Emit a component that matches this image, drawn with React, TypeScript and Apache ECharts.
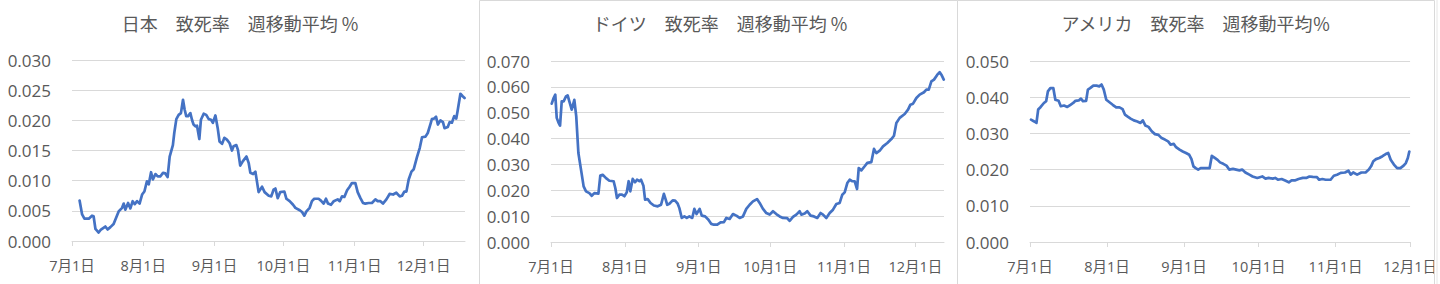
import React, { useEffect, useRef } from "react";
import * as echarts from "echarts";

// x positions are days since 7月1日
const tickDays = [0, 31, 62, 92, 123, 153];
const tickLabels = ["7月1日", "8月1日", "9月1日", "10月1日", "11月1日", "12月1日"];

const titles = [
  "日本　致死率　週移動平均 %",
  "ドイツ　致死率　週移動平均 %",
  "アメリカ　致死率　週移動平均％",
];

// Japan
const jpDays = [3.3, 4.4, 5.4, 7.3, 8.7, 9.4, 10.2, 11.6, 12.6, 14.5, 15.5, 16.7, 18.1, 20.3, 21.8, 22.5, 23.2, 24.4, 25.4, 26.4, 27.3, 28.3, 29.4, 30.5, 31.5, 32.6, 33.4, 34.4, 35.2, 36.3, 37.3, 38.4, 39.6, 40.6, 41.6, 42.5, 43.9, 44.5, 45.4, 46.4, 47.4, 48.3, 49.0, 49.7, 50.5, 51.5, 52.2, 52.9, 53.7, 54.4, 55.4, 56.1, 57.3, 58.4, 59.5, 60.5, 61.3, 62.4, 63.4, 64.2, 65.3, 66.3, 67.4, 68.6, 69.6, 70.3, 71.5, 72.2, 73.2, 74.3, 75.9, 76.9, 77.6, 78.8, 79.8, 81.2, 82.7, 83.8, 85.6, 86.7, 87.7, 88.5, 89.5, 90.6, 92.4, 93.3, 94.7, 96.2, 97.2, 99.1, 100.1, 101.1, 102.0, 103.4, 104.4, 105.4, 107.3, 108.3, 109.5, 110.5, 111.4, 112.7, 113.9, 115.6, 116.5, 117.5, 118.5, 119.7, 120.8, 121.8, 123.3, 124.3, 125.5, 126.6, 127.6, 129.1, 130.5, 132.0, 133.0, 134.2, 135.3, 136.8, 138.2, 139.7, 141.1, 142.6, 143.6, 144.6, 145.5, 146.5, 147.7, 148.7, 150.1, 151.3, 152.3, 153.8, 154.8, 155.9, 156.6, 157.6, 158.4, 159.2, 160.3, 161.4, 162.1, 163.5, 164.3, 165.3, 166.3, 167.2, 167.8, 169.0, 170.0, 170.8];
const jpRate = [0.0067, 0.0044, 0.0037, 0.0037, 0.0042, 0.0041, 0.0020, 0.0014, 0.0019, 0.0024, 0.0019, 0.0023, 0.0028, 0.0049, 0.0055, 0.0062, 0.0052, 0.0063, 0.0054, 0.0066, 0.0061, 0.0066, 0.0062, 0.0077, 0.0082, 0.0099, 0.0094, 0.0114, 0.0102, 0.0111, 0.0107, 0.0107, 0.0113, 0.0112, 0.0106, 0.0140, 0.0159, 0.0179, 0.0202, 0.0209, 0.0212, 0.0234, 0.0218, 0.0207, 0.0207, 0.0212, 0.0201, 0.0193, 0.0190, 0.0191, 0.0169, 0.0201, 0.0211, 0.0209, 0.0202, 0.0201, 0.0196, 0.0208, 0.0187, 0.0165, 0.0161, 0.0171, 0.0168, 0.0162, 0.0150, 0.0157, 0.0159, 0.0151, 0.0125, 0.0132, 0.0140, 0.0129, 0.0113, 0.0111, 0.0115, 0.0081, 0.0090, 0.0081, 0.0075, 0.0074, 0.0085, 0.0087, 0.0071, 0.0081, 0.0082, 0.0070, 0.0066, 0.0060, 0.0055, 0.0051, 0.0048, 0.0042, 0.0049, 0.0055, 0.0066, 0.0070, 0.0070, 0.0067, 0.0062, 0.0070, 0.0062, 0.0060, 0.0066, 0.0069, 0.0066, 0.0074, 0.0073, 0.0084, 0.0090, 0.0096, 0.0096, 0.0081, 0.0071, 0.0063, 0.0062, 0.0063, 0.0063, 0.0069, 0.0066, 0.0066, 0.0062, 0.0069, 0.0078, 0.0077, 0.0080, 0.0074, 0.0075, 0.0082, 0.0082, 0.0102, 0.0115, 0.0119, 0.0139, 0.0154, 0.0172, 0.0173, 0.0179, 0.0193, 0.0202, 0.0203, 0.0206, 0.0193, 0.0200, 0.0197, 0.0187, 0.0189, 0.0197, 0.0196, 0.0207, 0.0203, 0.0216, 0.0244, 0.0240, 0.0237];

// Germany
const deDays = [0.3, 1.1, 1.8, 2.4, 3.1, 3.8, 4.5, 5.3, 6.3, 7.0, 7.7, 8.7, 9.8, 10.6, 11.5, 12.6, 13.7, 14.7, 16.1, 17.1, 18.2, 19.9, 20.7, 21.7, 23.1, 24.5, 26.3, 27.0, 27.7, 28.7, 29.8, 30.8, 31.8, 32.6, 33.3, 34.3, 35.3, 36.1, 37.1, 37.8, 38.8, 39.5, 40.6, 41.8, 43.2, 44.8, 46.2, 47.4, 48.1, 48.8, 49.7, 51.1, 52.1, 53.2, 53.9, 54.9, 56.0, 57.0, 58.1, 59.3, 60.2, 61.1, 62.4, 63.3, 64.7, 66.1, 67.3, 68.4, 69.8, 71.2, 72.6, 73.6, 75.0, 76.4, 77.8, 79.2, 80.6, 82.0, 83.4, 84.8, 86.5, 87.6, 89.0, 90.4, 91.8, 93.2, 94.6, 96.0, 97.4, 99.2, 100.2, 101.6, 103.0, 104.4, 105.1, 106.5, 107.6, 109.0, 110.4, 111.8, 113.2, 114.2, 115.6, 117.0, 118.4, 119.8, 121.2, 122.3, 123.3, 124.4, 125.4, 126.4, 127.5, 128.5, 129.2, 130.3, 131.7, 132.8, 134.5, 135.6, 136.6, 138.0, 139.4, 141.2, 142.9, 144.0, 145.0, 146.4, 148.5, 149.9, 150.9, 152.0, 153.4, 154.8, 156.6, 157.6, 158.6, 159.7, 160.8, 162.2, 163.2, 163.9, 164.9];
const deRate = [0.0535, 0.0557, 0.0570, 0.0480, 0.0463, 0.0450, 0.0544, 0.0544, 0.0563, 0.0567, 0.0544, 0.0512, 0.0550, 0.0486, 0.0344, 0.0280, 0.0215, 0.0196, 0.0189, 0.0179, 0.0189, 0.0187, 0.0257, 0.0260, 0.0247, 0.0237, 0.0235, 0.0209, 0.0170, 0.0183, 0.0183, 0.0177, 0.0192, 0.0235, 0.0196, 0.0244, 0.0231, 0.0241, 0.0235, 0.0241, 0.0218, 0.0164, 0.0166, 0.0151, 0.0141, 0.0138, 0.0144, 0.0186, 0.0166, 0.0144, 0.0148, 0.0161, 0.0160, 0.0148, 0.0131, 0.0093, 0.0099, 0.0093, 0.0099, 0.0093, 0.0128, 0.0108, 0.0128, 0.0102, 0.0099, 0.0086, 0.0070, 0.0067, 0.0067, 0.0076, 0.0077, 0.0093, 0.0089, 0.0108, 0.0102, 0.0093, 0.0099, 0.0128, 0.0144, 0.0157, 0.0166, 0.0151, 0.0128, 0.0112, 0.0106, 0.0119, 0.0108, 0.0099, 0.0093, 0.0092, 0.0082, 0.0097, 0.0106, 0.0119, 0.0106, 0.0110, 0.0119, 0.0102, 0.0099, 0.0093, 0.0112, 0.0106, 0.0093, 0.0112, 0.0125, 0.0147, 0.0151, 0.0183, 0.0192, 0.0228, 0.0241, 0.0235, 0.0235, 0.0205, 0.0286, 0.0277, 0.0293, 0.0306, 0.0309, 0.0360, 0.0344, 0.0353, 0.0370, 0.0383, 0.0398, 0.0411, 0.0460, 0.0480, 0.0495, 0.0512, 0.0531, 0.0535, 0.0557, 0.0570, 0.0579, 0.0589, 0.0589, 0.0621, 0.0628, 0.0647, 0.0657, 0.0647, 0.0628];

// USA
const usDays = [0.4, 1.7, 2.6, 3.3, 4.3, 5.6, 6.5, 7.2, 8.2, 9.4, 10.2, 11.5, 12.4, 13.7, 15.0, 16.3, 17.4, 18.3, 19.6, 20.5, 21.3, 22.6, 23.3, 24.2, 25.5, 26.8, 27.9, 28.8, 29.7, 30.7, 32.0, 33.3, 34.7, 36.0, 37.3, 38.2, 39.2, 40.5, 41.8, 43.2, 44.5, 45.4, 46.4, 47.7, 49.0, 50.3, 51.7, 53.0, 54.3, 55.6, 56.6, 57.9, 58.8, 60.2, 61.5, 62.8, 64.1, 65.0, 65.8, 66.7, 67.7, 68.7, 69.7, 71.0, 72.3, 73.2, 74.1, 75.5, 76.5, 77.8, 79.1, 80.2, 81.7, 83.0, 84.3, 85.4, 86.7, 88.3, 89.6, 91.5, 93.5, 94.8, 96.1, 97.7, 98.7, 99.8, 101.3, 102.7, 104.2, 105.3, 106.6, 108.1, 109.8, 111.2, 112.5, 113.8, 115.5, 116.4, 117.7, 119.0, 121.0, 122.3, 123.6, 125.1, 126.8, 128.2, 129.1, 130.1, 131.7, 133.4, 135.1, 136.4, 137.3, 138.2, 139.3, 140.6, 141.9, 143.2, 144.2, 145.2, 146.5, 147.8, 149.1, 150.4, 151.3, 152.1, 152.7];
const usRate = [0.0338, 0.0333, 0.0329, 0.0366, 0.0373, 0.0384, 0.0389, 0.0416, 0.0425, 0.0425, 0.0393, 0.0390, 0.0375, 0.0377, 0.0373, 0.0379, 0.0384, 0.0390, 0.0391, 0.0396, 0.0389, 0.0390, 0.0421, 0.0425, 0.0432, 0.0432, 0.0430, 0.0435, 0.0421, 0.0393, 0.0386, 0.0379, 0.0372, 0.0372, 0.0367, 0.0352, 0.0347, 0.0341, 0.0336, 0.0333, 0.0329, 0.0336, 0.0322, 0.0318, 0.0306, 0.0298, 0.0296, 0.0287, 0.0283, 0.0278, 0.0269, 0.0271, 0.0262, 0.0255, 0.0250, 0.0246, 0.0241, 0.0229, 0.0209, 0.0204, 0.0200, 0.0204, 0.0204, 0.0204, 0.0204, 0.0238, 0.0234, 0.0227, 0.0220, 0.0216, 0.0211, 0.0200, 0.0202, 0.0200, 0.0198, 0.0200, 0.0192, 0.0186, 0.0181, 0.0177, 0.0181, 0.0175, 0.0177, 0.0175, 0.0177, 0.0172, 0.0174, 0.0170, 0.0165, 0.0170, 0.0170, 0.0174, 0.0177, 0.0177, 0.0181, 0.0180, 0.0179, 0.0172, 0.0174, 0.0172, 0.0172, 0.0183, 0.0186, 0.0191, 0.0192, 0.0197, 0.0186, 0.0192, 0.0186, 0.0192, 0.0192, 0.0200, 0.0209, 0.0223, 0.0229, 0.0232, 0.0237, 0.0243, 0.0246, 0.0227, 0.0214, 0.0204, 0.0204, 0.0211, 0.0218, 0.0232, 0.0250];

const xMax = [171, 165, 153];
const yMax = [0.03, 0.07, 0.05];
const yStep = [0.005, 0.01, 0.01];

const TEXT = "#595959";
const GRIDC = "#D9D9D9";
const LINE = "#4472C4";
const FONT = "'Open Sans', 'Noto Sans CJK JP', sans-serif";

const grids = [
  { left: 72, width: 393, top: 60, height: 181 },
  { left: 551, width: 393, top: 61, height: 181 },
  { left: 1030, width: 390, top: 61, height: 181 },
];
const titleX = [240, 720, 1196];

export default function App() {
  const ref = useRef<HTMLDivElement>(null);
  useEffect(() => {
    if (!ref.current) return;
    const chart = echarts.init(ref.current, undefined, { renderer: "svg" });
    const seriesData = [
      jpDays.map((d, i) => [d, jpRate[i]]),
      deDays.map((d, i) => [d, deRate[i]]),
      usDays.map((d, i) => [d, usRate[i]]),
    ];
    const option: any = {
      animation: false,
      backgroundColor: "#ffffff",
      title: titles.map((t, i) => ({
        text: t,
        left: titleX[i],
        top: 14,
        textAlign: "center",
        padding: 0,
        textStyle: {
          color: TEXT,
          fontSize: 18,
          fontWeight: "normal",
          fontFamily: "'Noto Sans CJK JP', sans-serif",
        },
      })),
      grid: grids.map((g) => ({ ...g, containLabel: false })),
      xAxis: [0, 1, 2].map((i) => ({
        type: "value",
        gridIndex: i,
        min: 0,
        max: xMax[i],
        axisLine: { show: true, lineStyle: { color: GRIDC, width: 1 } },
        axisTick: {
          show: true,
          length: 5,
          customValues: tickDays,
          lineStyle: { color: GRIDC },
        },
        splitLine: { show: false },
        axisLabel: {
          customValues: tickDays,
          color: TEXT,
          fontSize: 14.5,
          fontFamily: FONT,
          margin: 17,
          formatter: (v: number) => {
            const k = tickDays.indexOf(Math.round(v));
            return k >= 0 ? tickLabels[k] : "";
          },
        },
      })),
      yAxis: [0, 1, 2].map((i) => ({
        type: "value",
        gridIndex: i,
        min: 0,
        max: yMax[i],
        interval: yStep[i],
        axisLine: { show: false },
        axisTick: { show: false },
        splitLine: { show: true, lineStyle: { color: GRIDC, width: 1 } },
        axisLabel: {
          color: TEXT,
          fontSize: 17,
          fontFamily: FONT,
          margin: 21,
          formatter: (v: number) => v.toFixed(3),
        },
      })),
      series: [0, 1, 2].map((i) => ({
        type: "line",
        xAxisIndex: i,
        yAxisIndex: i,
        data: seriesData[i],
        showSymbol: false,
        symbol: "none",
        lineStyle: { color: LINE, width: 2.7, join: "round", cap: "round" },
        z: 3,
      })),
      graphic: [
        {
          type: "rect",
          z: 100,
          shape: { x: 1434, y: 0, width: 10, height: 284 },
          style: { fill: "#ffffff" },
        },
        {
          type: "polyline",
          z: 101,
          shape: { points: [[479.5, 284], [479.5, 0.5], [957.5, 0.5], [957.5, 284]] },
          style: { stroke: GRIDC, fill: null, lineWidth: 1 },
        },
        {
          type: "polyline",
          z: 101,
          shape: { points: [[957.5, 0.5], [1434.5, 0.5], [1434.5, 284]] },
          style: { stroke: GRIDC, fill: null, lineWidth: 1 },
        },
        {
          type: "line",
          z: 101,
          shape: { x1: 1437, y1: 0, x2: 1437, y2: 284 },
          style: { stroke: "#E6E6E6", lineWidth: 1 },
        },
      ],
    };
    chart.setOption(option);
    return () => chart.dispose();
  }, []);
  return (
    <div
      ref={ref}
      style={{ position: "absolute", left: 0, top: 0, width: 1440, height: 284 }}
    />
  );
}
